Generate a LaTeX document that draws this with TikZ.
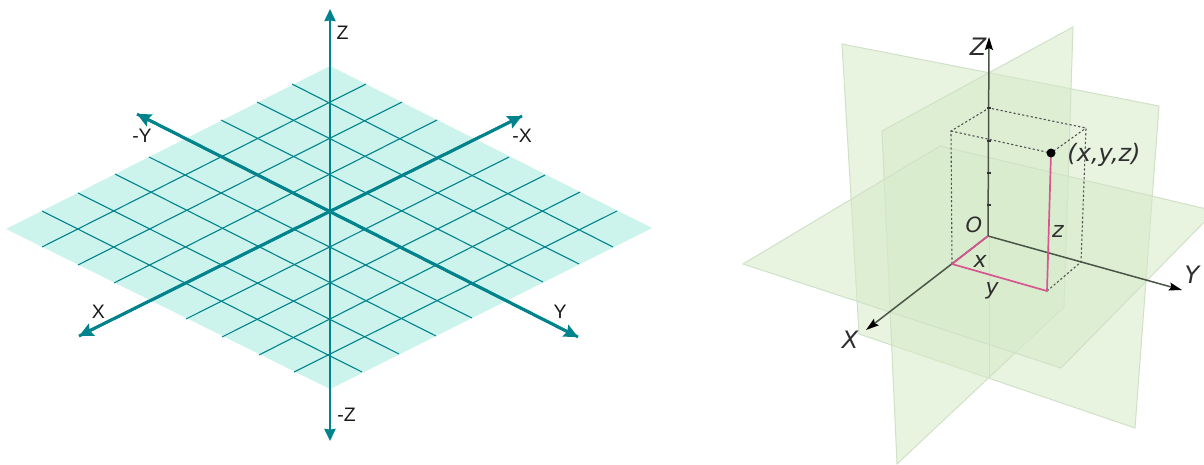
\documentclass[tikz,border=0pt]{standalone}
\usepackage{fontspec}
\setmainfont{Liberation Sans}
\newfontfamily\djv{DejaVu Sans}
\usetikzlibrary{arrows.meta}
\definecolor{teal1}{HTML}{00838C}
\definecolor{gridfill}{HTML}{CCF3EC}
\definecolor{planefill}{HTML}{D7EACA}
\definecolor{planeedge}{HTML}{D0E1C7}
\definecolor{pinkline}{HTML}{D6568F}
\definecolor{axisgrey}{HTML}{4A5547}
\tikzset{
  gridline/.style={draw=teal1,line width=1.1pt},
  mainaxis/.style={draw=teal1,line width=2.9pt,-{Stealth[length=14pt,width=13pt,inset=2pt]}},
  zaxis/.style={draw=teal1,line width=2.4pt,{Stealth[length=12pt,width=11pt,inset=0.5pt]}-{Stealth[length=12pt,width=11pt,inset=0.5pt]}},
  lbl/.style={font=\fontsize{19.5}{19.5}\selectfont,text=black!90,inner sep=0pt},
  plane/.style={fill=planefill,fill opacity=0.58,draw=planeedge,line width=1pt},
  boxline/.style={draw=black!68,line width=1.1pt,dash pattern=on 2.2pt off 2.2pt},
  coordline/.style={draw=pinkline,line width=1.7pt,line join=round},
  axis3d/.style={draw=axisgrey,line width=1.5pt,-{Stealth[length=13pt,width=8pt,inset=2pt,color=black]}},
  lab3d/.style={font=\djv\itshape\fontsize{22}{22}\selectfont,text=black!82,inner sep=0pt},
}
\begin{document}
\begin{tikzpicture}[x=1pt,y=-1pt]
\useasboundingbox (0,0) rectangle (1204,464);
% --- left: grid plane
\fill[gridfill] (6,229) -- (330,66) -- (652,228) -- (330,389) -- cycle;
\foreach \ax/\ay/\bx/\by in {292/84/613/247,257/102/579/264,221/120/543/282,149/157/472/318,115/174/436/336,78/193/399/354,42/211/362/372}
  \draw[gridline] (\ax,\ay) -- (\bx,\by);
\foreach \ax/\ay/\bx/\by in {294/372/617/211,259/355/580/192,222/337/545/175,186/319/509/157,114/283/437/120,78/265/402/102,42/247/366/84}
  \draw[gridline] (\ax,\ay) -- (\bx,\by);
\coordinate (ztop) at (330,9);
\coordinate (zbot) at (330,441);
\coordinate (mY) at (137,114);
\coordinate (pY) at (578,337);
\coordinate (mX) at (522,116);
\coordinate (pX) at (79,336);
\draw[mainaxis] (mY) -- (pY);
\draw[mainaxis] (pY) -- (mY);
\draw[mainaxis] (mX) -- (pX);
\draw[mainaxis] (pX) -- (mX);
\draw[zaxis] (zbot) -- (ztop);
\node[lbl] (lz) at (342.5,32.5) {Z};
\node[lbl] (lmz) at (346.5,415) {-Z};
\node[lbl] (lmy) at (142,135.5) {-Y};
\node[lbl] (lmx) at (522,136) {-X};
\node[lbl] (lx) at (98.5,312) {X};
\node[lbl] (ly) at (560,312) {Y};
% --- right: planes
\begin{scope}
\clip (0,0) rectangle (1204,464);
\draw[plane] (842,44) -- (1159,106) -- (1135,428) -- (859,334) -- cycle;
\draw[plane] (882,131) -- (1073,27) -- (1064,307) -- (897,464) -- cycle;
\draw[plane] (743,264) -- (940,146) -- (1215,211) -- (1061,368) -- cycle;
\end{scope}
\draw[planeedge,line width=1pt] (989,236) -- (989,379);
% dotted box
\coordinate (O) at (988,236);
\coordinate (A) at (952,264);
\coordinate (B) at (1081,262);
\coordinate (F) at (1047,291);
\coordinate (P) at (1051,153);
\coordinate (TL) at (951,131);
\coordinate (TB) at (989,108);
\coordinate (TR) at (1086,128);
\draw[boxline] (A) -- (TL) -- (TB) -- (TR) -- (B);
\draw[boxline] (TL) -- (P) -- (TR);
\draw[boxline] (F) -- (B);
% axes
\coordinate (tipZ) at (989,37);
\coordinate (tipX) at (866,330);
\coordinate (tipY) at (1182,290);
\draw[axis3d] (O) -- (tipZ);
\draw[axis3d] (O) -- (tipX);
\draw[axis3d] (O) -- (tipY);
\foreach \ty in {108,141,173,205}
  \fill[black!80] (987,\ty-1) rectangle (991,\ty+1);
% coordinate path
\draw[coordline] (O) -- (A) -- (F) -- (P);
\fill[black] (P) circle (4.5pt);
\node[lab3d,font=\djv\itshape\fontsize{24}{24}\selectfont] (nZ) at (978,47) {Z};
\node[lab3d,font=\djv\itshape\fontsize{24}{24}\selectfont] (nP) at (1104,155) {(x,y,z)};
\node[lab3d,font=\djv\itshape\fontsize{21}{21}\selectfont] (nO) at (974,225) {O};
\node[lab3d] (nz) at (1058,231) {z};
\node[lab3d] (nx) at (980,261) {x};
\node[lab3d] (ny) at (992,291) {y};
\node[lab3d,font=\djv\itshape\fontsize{24}{24}\selectfont] (nX) at (850,340) {X};
\node[lab3d,font=\djv\itshape\fontsize{24}{24}\selectfont] (nY) at (1192,275) {Y};
\end{tikzpicture}
\end{document}
